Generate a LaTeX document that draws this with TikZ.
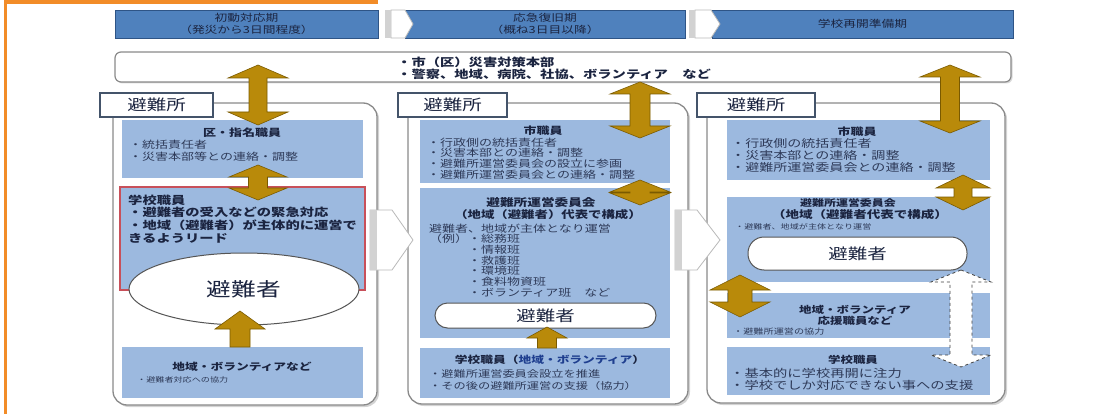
\documentclass[tikz,border=0pt]{standalone}
\usepackage{fontspec}
\setmainfont{Noto Sans CJK JP}[FakeStretch=1.3]
\usetikzlibrary{shadows,shapes.geometric}
\definecolor{hdrblue}{HTML}{4F81BD}
\definecolor{hdredge}{HTML}{2E5486}
\definecolor{boxblue}{HTML}{9CB9DF}
\definecolor{goldfill}{HTML}{B98A0A}
\definecolor{goldedge}{HTML}{7A5A00}
\definecolor{ttlc}{HTML}{1B2440}
\definecolor{bulc}{HTML}{2E3A58}
\definecolor{panelgray}{HTML}{8A8A8A}
\definecolor{tabedge}{HTML}{44546A}
\definecolor{schoolred}{HTML}{C8505A}
\definecolor{orangeline}{HTML}{F28C28}
\definecolor{volblue}{HTML}{1F3F8F}
\definecolor{ellc}{HTML}{555555}
\newcommand{\FS}[2]{\fontsize{#1}{#2}\selectfont}
% style, x, ytop, ybot, headlen, halfhead, halfshaft
\newcommand{\GoldDouble}[7]{%
\draw[#1] (#2,#3) -- ({#2+#6},{#3+#5}) -- ({#2+#7},{#3+#5}) -- ({#2+#7},{#4-#5}) -- ({#2+#6},{#4-#5}) -- (#2,#4) -- ({#2-#6},{#4-#5}) -- ({#2-#7},{#4-#5}) -- ({#2-#7},{#3+#5}) -- ({#2-#6},{#3+#5}) -- cycle;}
\newcommand{\GoldUp}[7]{%
\draw[#1] (#2,#3) -- ({#2+#6},{#3+#5}) -- ({#2+#7},{#3+#5}) -- ({#2+#7},#4) -- ({#2-#7},#4) -- ({#2-#7},{#3+#5}) -- ({#2-#6},{#3+#5}) -- cycle;}
\begin{document}
\begin{tikzpicture}[x=1pt,y=-1pt,
  hdr/.style={draw=hdredge,fill=hdrblue,line width=0.9pt,minimum height=28pt,inner sep=0pt,align=center,text=ttlc,font=\FS{9.8}{11.5}},
  chev/.style={fill=white,draw=gray!55,line width=0.8pt},
  chevstrip/.style={fill=gray!35},
  topbox/.style={draw=panelgray,fill=white,line width=1.2pt,rounded corners=6pt,inner sep=0pt,drop shadow={opacity=0.3,shadow xshift=1.5pt,shadow yshift=-1.5pt}},
  panel/.style={draw=panelgray,fill=white,line width=1.3pt,rounded corners=14pt,inner sep=0pt,drop shadow={opacity=0.35,shadow xshift=2pt,shadow yshift=-2pt}},
  tabbox/.style={draw=tabedge,fill=white,line width=1.4pt,inner sep=0pt,font=\FS{15}{15},text=ttlc},
  inbox/.style={fill=boxblue,draw=none,inner sep=0pt},
  ttl/.style={inner sep=0pt,text=ttlc},
  bul/.style={inner sep=0pt,text=bulc,align=left,anchor=north west},
  stad/.style={draw=ellc,fill=white,line width=1pt,inner sep=0pt,text=ttlc},
  goldarr/.style={fill=goldfill,draw=goldedge,line width=0.6pt},
  dasharr/.style={fill=white,draw=gray!50!black,line width=0.8pt,dashed}]
\useasboundingbox (0,0) rectangle (1102,414);
% orange frame
\draw[orangeline,line width=4pt] (4,2) -- (378,2);
\draw[orangeline,line width=3pt] (5.5,0) -- (5.5,414);
% header bars
\node[hdr,minimum width=263pt] (h1) at (246.5,24) {初動対応期\\（発災から3日間程度）};
\node[hdr,minimum width=280pt] (h2) at (545,24) {応急復旧期\\（概ね3日目以降）};
\node[hdr,minimum width=301pt] (h3) at (862.5,24) {学校再開準備期};
\filldraw[chev] (391,10) -- (405,10) -- (413,24) -- (405,38) -- (391,38) -- cycle;
\fill[chevstrip] (385,10) rectangle (391,38);
\filldraw[chev] (695,10) -- (711,10) -- (720,24) -- (711,38) -- (695,38) -- cycle;
\fill[chevstrip] (689,10) rectangle (695,38);
% top box
\node[topbox,minimum width=896pt,minimum height=30pt] (hq) at (563,67) {};
\node[bul,font=\FS{11}{12}\bfseries,text=ttlc] (hqt) at (397,57) {・市（区）災害対策本部\\・警察、地域、病院、社協、ボランティア　など};
% panels
\node[panel,minimum width=264pt,minimum height=302pt] (p1) at (245,254) {};
\node[panel,minimum width=280pt,minimum height=301pt] (p2) at (548,253.5) {};
\node[panel,minimum width=298pt,minimum height=300pt] (p3) at (856,253) {};
\node[tabbox,minimum width=113pt,minimum height=24pt] (tab1) at (156.5,105) {避難所};
\node[tabbox,minimum width=109pt,minimum height=24pt] (tab2) at (452.5,105) {避難所};
\node[tabbox,minimum width=118pt,minimum height=24pt] (tab3) at (756,105) {避難所};
% ---------- panel 1
\node[inbox,minimum width=241pt,minimum height=58pt] (ku) at (242.5,149) {};
\node[ttl,font=\FS{10}{12}\bfseries] (kut) at (242,133) {区・指名職員};
\node[bul,font=\FS{10}{12}] (kub) at (129,139.5) {・統括責任者\\・災害本部等との連絡・調整};
\node[inbox,draw=schoolred,line width=1.6pt,minimum width=245pt,minimum height=103pt] (sc1) at (242.5,238.5) {};
\node[bul,font=\FS{11}{12.7}\bfseries,text=ttlc] (sc1t) at (128,194.5) {学校職員\\・避難者の受入などの緊急対応\\・地域（避難者）が主体的に運営で\\きるようリード};
\node[ellipse,draw=ellc,fill=white,line width=1pt,minimum width=230pt,minimum height=72pt,inner sep=0pt,font=\FS{19}{19},text=ttlc] (ev1) at (244,289) {避難者};
\node[inbox,minimum width=241pt,minimum height=51pt] (vol1) at (242.5,372.5) {};
\node[ttl,font=\FS{9.8}{12}\bfseries] (vol1t) at (242,367) {地域・ボランティアなど};
\node[bul,font=\FS{7}{8}] (vol1b) at (137,376.5) {・避難者対応への協力};
% ---------- panel 2
\node[inbox,minimum width=250pt,minimum height=63pt] (c2) at (545,151.5) {};
\node[ttl,font=\FS{10}{12}\bfseries] (c2t) at (543,131) {市職員};
\node[bul,font=\FS{10}{10.7}] (c2b) at (427,137.5) {・行政側の統括責任者\\・災害本部との連絡・調整\\・避難所運営委員会の設立に参画\\・避難所運営委員会との連絡・調整};
\node[inbox,minimum width=250pt,minimum height=150pt] (cm2) at (545,263) {};
\node[ttl,font=\FS{10.5}{12}\bfseries] (cm2t) at (541,202) {避難所運営委員会};
\node[ttl,font=\FS{10.3}{12}\bfseries] (cm2s) at (548,215) {（地域（避難者）代表で構成）};
\node[bul,font=\FS{10}{10.7}] (cm2b) at (429,223.5) {避難者、地域が主体となり運営\\（例）・総務班\\\hphantom{（例）}・情報班\\\hphantom{（例）}・救護班\\\hphantom{（例）}・環境班\\\hphantom{（例）}・食料物資班\\\hphantom{（例）}・ボランティア班　など};
\node[stad,minimum width=221pt,minimum height=25pt,rounded corners=12.5pt,font=\FS{15}{15}] (ev2) at (545.5,315.5) {避難者};
\node[inbox,minimum width=250pt,minimum height=50pt] (sc2) at (545,373) {};
\node[ttl,font=\FS{9.8}{12}\bfseries] (sc2t) at (550,360) {学校職員（\textcolor{volblue}{地域・ボランティア}）};
\node[bul,font=\FS{9.4}{12}] (sc2b) at (429,369) {・避難所運営委員会設立を推進\\・その後の避難所運営の支援（協力）};
% ---------- panel 3
\node[inbox,minimum width=263pt,minimum height=60pt] (c3) at (858.5,150) {};
\node[ttl,font=\FS{10}{12}\bfseries] (c3t) at (857,132) {市職員};
\node[bul,font=\FS{10.8}{12}] (c3b) at (731,138.5) {・行政側の統括責任者\\・災害本部との連絡・調整\\・避難所運営委員会との連絡・調整};
\node[inbox,minimum width=263pt,minimum height=85pt] (cm3) at (858.5,239.5) {};
\node[ttl,font=\FS{9.2}{12}\bfseries] (cm3t) at (848,203) {避難所運営委員会};
\node[ttl,font=\FS{10.4}{12}\bfseries] (cm3s) at (860,215) {（地域（避難者代表で構成）};
\node[bul,font=\FS{7}{8}] (cm3b) at (735,223.5) {・避難者、地域が主体となり運営};
\node[stad,minimum width=219pt,minimum height=33pt,rounded corners=16pt,font=\FS{15}{15}] (ev3) at (857.5,253.5) {避難者};
\node[inbox,minimum width=263pt,minimum height=45pt] (vol3) at (858.5,315.5) {};
\node[ttl,font=\FS{9.6}{11}\bfseries,align=center] (vol3t) at (855,315) {地域・ボランティア\\応援職員など};
\node[bul,font=\FS{7.8}{9}] (vol3b) at (733,327.5) {・避難所運営の協力};
\node[inbox,minimum width=263pt,minimum height=48pt] (sc3) at (858.5,371) {};
\node[ttl,font=\FS{9.6}{12}\bfseries] (sc3t) at (853,360) {学校職員};
\node[bul,font=\FS{11}{12.5}] (sc3b) at (730,368) {・基本的に学校再開に注力\\・学校でしか対応できない事への支援};
% panel chevrons
\filldraw[chev] (370,210) -- (392,210) -- (413,240) -- (392,270) -- (370,270) -- cycle;
\fill[chevstrip] (370,210) rectangle (377,270);
\filldraw[chev] (675,210) -- (697,210) -- (720,240) -- (697,270) -- (675,270) -- cycle;
\fill[chevstrip] (675,210) rectangle (682,270);
% arrows
\GoldDouble{goldarr}{258}{65}{125}{13}{30}{9}
\GoldDouble{goldarr}{258}{165}{200}{12}{29}{9.5}
\GoldUp{goldarr}{240}{311}{347}{18}{25}{10}
\GoldDouble{goldarr}{640}{82}{138}{12}{30}{10}
\GoldDouble{goldarr}{640}{180}{205}{12}{30}{10}
\GoldUp{goldarr}{547}{327}{348}{11}{20}{9.5}
\GoldDouble{goldarr}{950}{65}{133}{12}{30}{9.5}
\GoldDouble{goldarr}{963}{175}{210}{13}{27}{9}
\GoldDouble{goldarr}{740}{275}{317}{15}{30}{12}
\GoldDouble{dasharr}{961}{270}{367}{12}{30}{11}
\end{tikzpicture}
\end{document}
